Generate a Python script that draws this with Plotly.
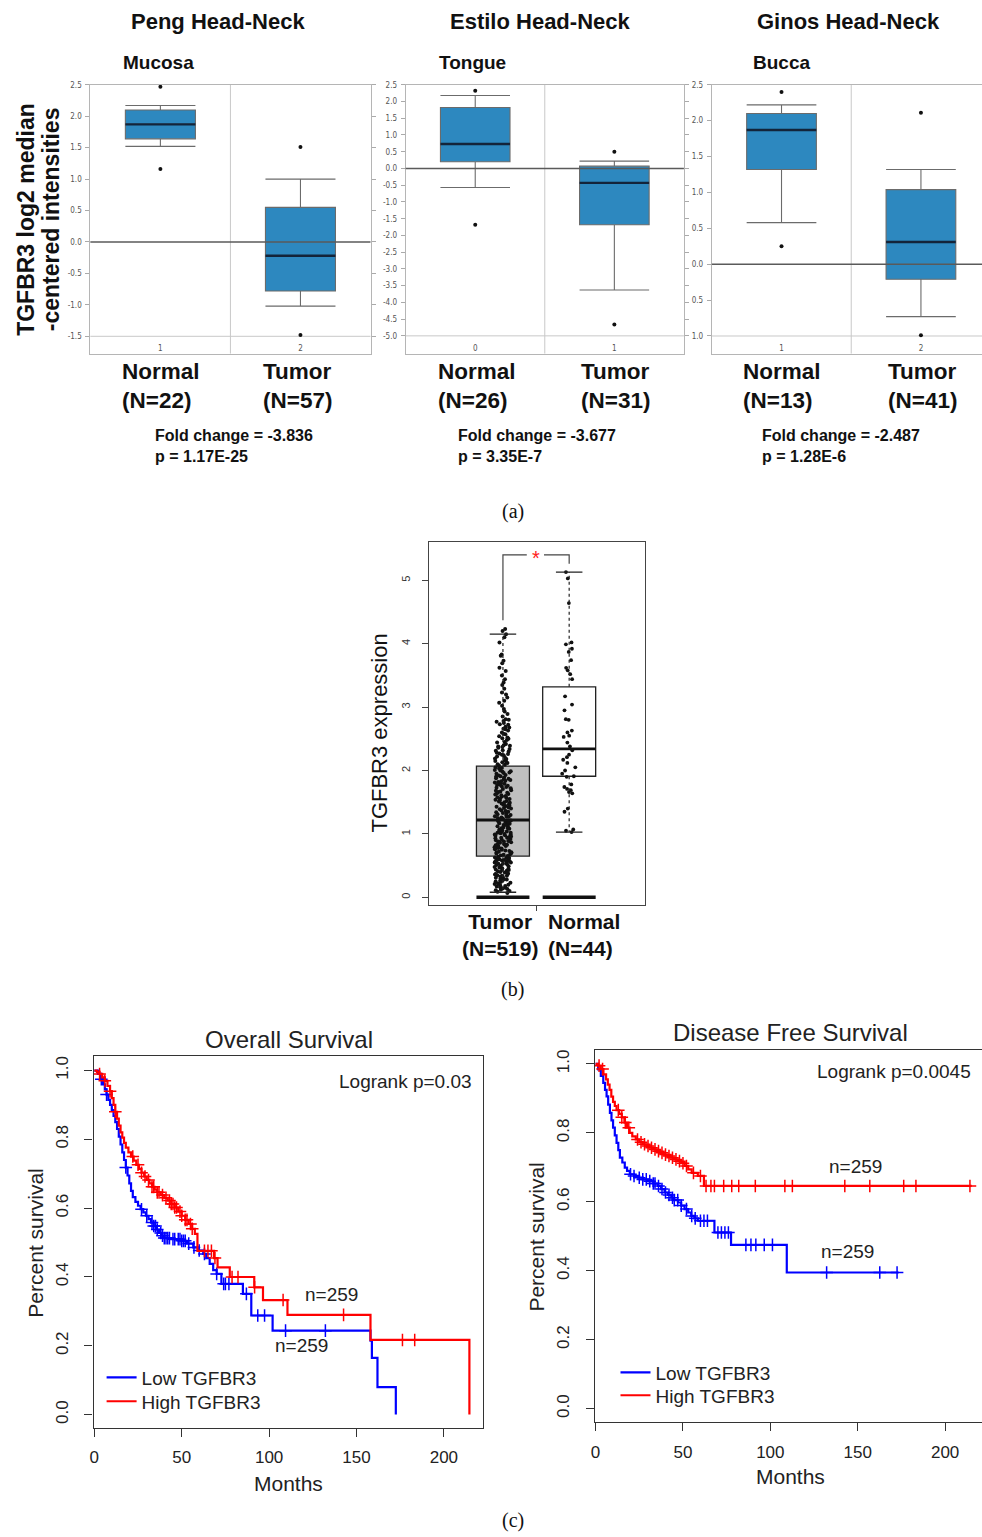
import plotly.graph_objects as go

W, H = 982, 1537


def fx(p):
    return p / W


def fy(p):
    return 1 - p / H


# ---------------- Panel (a): Oncomine box plots ----------------
a_titles = ["Peng Head-Neck", "Estilo Head-Neck", "Ginos Head-Neck"]
a_subtitles = ["Mucosa", "Tongue", "Bucca"]
a_groups = ["Normal", "Tumor"]
a_counts = [[22, 57], [26, 31], [13, 41]]
a_codes = [["1", "2"], ["0", "1"], ["1", "2"]]
a_fold = ["-3.836", "-3.677", "-2.487"]
a_pval = ["1.17E-25", "3.35E-7", "1.28E-6"]
a_q1 = [[1.64, -0.78], [0.20, -1.68], [1.32, -0.21]]
a_median = [[1.87, -0.22], [0.73, -0.43], [1.87, 0.31]]
a_q3 = [[2.10, 0.55], [1.82, 0.07], [2.10, 1.04]]
a_lowfence = [[1.52, -1.02], [-0.57, -3.63], [0.58, -0.73]]
a_highfence = [[2.17, 1.00], [2.18, 0.22], [2.22, 1.32]]
a_out_x = [[0, 0, 1, 1], [0, 0, 1, 1], [0, 0, 1, 1]]
a_out_y = [[2.47, 1.16, 1.51, -1.48], [2.32, -1.68, 0.50, -4.66], [2.40, 0.25, 2.11, -0.99]]
a_ytick_vals = [
    [-1.5, -1.0, -0.5, 0.0, 0.5, 1.0, 1.5, 2.0, 2.5],
    [-5.0, -4.5, -4.0, -3.5, -3.0, -2.5, -2.0, -1.5, -1.0, -0.5, 0.0, 0.5, 1.0, 1.5, 2.0, 2.5],
    [-1.0, -0.5, 0.0, 0.5, 1.0, 1.5, 2.0, 2.5],
]
a_ytick_text = [
    ["-1.5", "-1.0", "-0.5", "0.0", "0.5", "1.0", "1.5", "2.0", "2.5"],
    ["-5.0", "-4.5", "-4.0", "-3.5", "-3.0", "-2.5", "-2.0", "-1.5", "-1.0", "-0.5",
     "0.0", "0.5", "1.0", "1.5", "2.0", "2.5"],
    ["1.0", "0.5", "0.0", "0.5", "1.0", "1.5", "2.0", "2.5"],
]

# ---------------- Panel (b): GEPIA box plot ----------------
b_groups = ["Tumor", "Normal"]
b_counts = [519, 44]
b_q1 = [0.65, 1.91]
b_median = [1.22, 2.34]
b_q3 = [2.07, 3.32]
b_lowfence = [0.08, 1.03]
b_highfence = [4.15, 5.13]
b_ytick_vals = [0, 1, 2, 3, 4, 5]
tumor_expr = [
    0.07, 0.09, 0.11, 0.12, 0.14, 0.15, 0.17, 0.18, 0.20, 0.21, 0.23, 0.24, 0.26, 0.27,
    0.28, 0.30, 0.31, 0.33, 0.34, 0.35, 0.37, 0.38, 0.39, 0.41, 0.42, 0.43, 0.44, 0.46,
    0.47, 0.48, 0.49, 0.51, 0.52, 0.53, 0.54, 0.55, 0.57, 0.58, 0.59, 0.60, 0.61, 0.62,
    0.63, 0.64, 0.13, 0.19, 0.25, 0.32, 0.36, 0.40, 0.45, 0.50, 0.53, 0.56, 0.58, 0.62,
    0.66, 0.67, 0.69, 0.70, 0.71, 0.73, 0.74, 0.75, 0.77, 0.78, 0.79, 0.81, 0.82, 0.83,
    0.85, 0.86, 0.87, 0.89, 0.90, 0.91, 0.93, 0.94, 0.95, 0.97, 0.98, 0.99, 1.01, 1.02,
    1.03, 1.05, 1.06, 1.07, 1.09, 1.10, 1.11, 1.13, 1.14, 1.15, 1.17, 1.18, 1.19, 1.21,
    0.68, 0.76, 0.84, 0.92, 0.96, 1.00, 1.04, 1.08, 1.12, 1.16, 0.72, 0.80, 0.88, 1.20,
    1.23, 1.25, 1.27, 1.29, 1.31, 1.33, 1.35, 1.37, 1.39, 1.41, 1.43, 1.45, 1.47, 1.49,
    1.51, 1.53, 1.55, 1.57, 1.59, 1.61, 1.63, 1.65, 1.67, 1.69, 1.71, 1.73, 1.75, 1.77,
    1.79, 1.81, 1.83, 1.85, 1.87, 1.89, 1.91, 1.93, 1.95, 1.97, 1.99, 2.01, 2.03, 2.05,
    1.26, 1.34, 1.42, 1.50, 1.58, 1.66, 1.74, 1.82, 1.90, 1.98, 1.30, 1.46, 1.62, 1.78,
    2.08, 2.10, 2.12, 2.14, 2.16, 2.18, 2.20, 2.22, 2.24, 2.26, 2.28, 2.30, 2.32, 2.34,
    2.36, 2.38, 2.40, 2.42, 2.45, 2.48, 2.51, 2.54, 2.57, 2.60, 2.63, 2.66, 2.69, 2.72,
    2.75, 2.78, 2.81, 2.85, 2.89, 2.93, 2.97, 3.02, 3.07, 3.10, 3.15, 3.20, 3.23, 3.29,
    3.35, 3.39, 3.44, 3.50, 3.57, 3.62, 3.69, 3.73, 3.81, 3.83, 4.02, 4.10, 4.15, 4.20,
    4.23, 2.15, 2.27, 2.39, 2.52, 2.68, 2.77,
    0.10, 0.16, 0.22, 0.29, 0.37, 0.43, 0.48, 0.55, 0.60, 0.65, 0.71, 0.78, 0.83, 0.88,
    0.94, 0.99, 1.04, 1.09, 1.14, 1.19, 1.24, 1.28, 1.32, 1.36, 1.40, 1.44, 1.48, 1.52,
    1.56, 1.60, 1.64, 1.68, 1.72, 1.76, 1.80, 1.84, 1.88, 1.92, 1.96, 2.00, 2.04, 2.09,
    2.13, 2.19, 2.25, 2.31, 2.37, 2.44, 2.50, 2.58, 2.65, 2.73, 2.80, 0.34, 0.57, 0.79,
    1.02, 1.27, 1.54, 1.86,
]
normal_expr = [
    5.13, 5.03, 4.64, 4.02, 3.99, 3.92, 3.87, 3.74, 3.58, 3.52, 3.44, 3.17, 3.04, 2.95,
    2.81, 2.80, 2.63, 2.55, 2.53, 2.44, 2.32, 2.21, 2.17, 2.05, 2.00, 1.91, 1.90, 1.74,
    1.71, 1.66, 1.64, 1.40, 1.35, 1.07, 1.05, 1.03, 2.25, 2.12, 1.95, 1.78, 1.69, 2.38,
    2.60, 3.62,
]
b_bracket_y = [4.37, 5.40, 5.26]

# ---------------- Panel (c): Kaplan-Meier curves ----------------
km_xticks = [0, 50, 100, 150, 200]
km_yticks = [0.0, 0.2, 0.4, 0.6, 0.8, 1.0]

os_low_t = [2, 3.5, 5, 6, 7, 8, 9, 10, 11, 12, 13, 14, 15, 16, 17, 18, 19, 20, 21, 22,
            23.5, 25, 26.5, 28, 29.5, 31, 32.5, 34, 35.5, 37, 38.5, 40, 44, 50, 53, 56.6,
            59.5, 62.3, 64, 66, 68, 70, 72.7, 85, 89.8, 102, 158, 158.8, 162, 172.5]
os_low_s = [0.99, 0.975, 0.96, 0.945, 0.93, 0.915, 0.9, 0.885, 0.868, 0.85, 0.83, 0.808,
            0.785, 0.762, 0.74, 0.718, 0.695, 0.672, 0.65, 0.632, 0.618, 0.607, 0.597,
            0.588, 0.578, 0.568, 0.558, 0.548, 0.538, 0.528, 0.52, 0.513, 0.51, 0.505,
            0.497, 0.486, 0.477, 0.467, 0.455, 0.438, 0.42, 0.409, 0.38, 0.351, 0.288,
            0.244, 0.215, 0.165, 0.08, 0.0]
os_low_cens = [4, 7, 18, 27, 30, 33, 34, 35, 36, 38, 39, 40, 41, 42, 43, 45, 46, 48, 49,
               50, 51, 52, 54, 57, 60, 63, 70, 74, 75, 77, 87, 93.5, 97.4, 109.4, 132.2]
os_low_end = 172.5

os_high_t = [1.5, 3, 4.5, 6, 7.5, 9, 10, 11, 12, 13, 14, 15, 16, 17, 18, 19.5, 21, 22.5,
             24, 25.5, 27, 28.5, 30, 31.5, 33, 34.5, 36, 38, 40, 42, 44, 46, 48, 50, 52,
             54, 56, 57.5, 59, 68.5, 70.5, 77.5, 91.5, 96.5, 110.5, 158, 214.6]
os_high_s = [0.996, 0.99, 0.98, 0.97, 0.955, 0.94, 0.92, 0.9, 0.88, 0.86, 0.84, 0.82,
             0.805, 0.79, 0.776, 0.762, 0.75, 0.738, 0.726, 0.714, 0.703, 0.692, 0.682,
             0.672, 0.662, 0.654, 0.646, 0.638, 0.63, 0.622, 0.612, 0.602, 0.59, 0.578,
             0.566, 0.554, 0.54, 0.525, 0.476, 0.455, 0.428, 0.40, 0.37, 0.333, 0.29,
             0.217, 0.0]
os_high_cens = [3, 6, 9, 12, 22, 25, 27, 29, 31, 33, 34, 36, 37, 39, 41, 43, 44, 45, 46,
                47, 49, 50, 52, 53, 55, 56, 63, 65, 67, 69, 78.8, 82.2, 91.7, 108, 142.6,
                176.3, 183.3]
os_high_end = 214.6

dfs_low_t = [1.5, 3, 4.4, 5.4, 6.3, 7.2, 8.2, 9.1, 10, 11, 12, 13, 13.9, 15.3, 16.7, 18,
             19.6, 22, 24.3, 27, 30, 33, 35.7, 37.5, 39.5, 41.5, 43.3, 45, 47.1, 49, 50.9,
             53, 54.7, 56.5, 58.5, 68, 77.5, 109.4]
dfs_low_s = [0.984, 0.965, 0.945, 0.925, 0.906, 0.882, 0.858, 0.836, 0.815, 0.793, 0.771,
             0.75, 0.728, 0.714, 0.699, 0.69, 0.68, 0.675, 0.67, 0.665, 0.66, 0.653,
             0.646, 0.637, 0.627, 0.62, 0.612, 0.605, 0.598, 0.589, 0.579, 0.569, 0.559,
             0.552, 0.545, 0.511, 0.475, 0.395]
dfs_low_cens = [20, 22, 25, 27, 29, 31, 33, 34, 36, 38, 40, 42, 44, 45, 47, 49, 52, 55,
                57, 60, 62, 64, 70, 72, 74, 76, 86, 88.9, 91.7, 96.5, 101.2, 132.2, 162.6,
                172.5]
dfs_low_end = 173.4

dfs_high_t = [1.5, 3, 4.5, 6, 7, 8, 9, 10, 11, 12, 13.5, 15, 16.5, 18, 19.5, 21, 23, 25,
              27, 29, 31, 33, 35, 37, 39, 41, 43, 45, 47, 49, 51, 53, 55, 58.5, 62]
dfs_high_s = [0.995, 0.985, 0.97, 0.955, 0.94, 0.925, 0.905, 0.89, 0.878, 0.866, 0.855,
              0.845, 0.83, 0.815, 0.8, 0.79, 0.781, 0.773, 0.767, 0.762, 0.757, 0.752,
              0.747, 0.742, 0.737, 0.733, 0.728, 0.723, 0.718, 0.712, 0.704, 0.694,
              0.684, 0.675, 0.646]
dfs_high_cens = [2, 4, 13, 15, 17, 19, 24, 26, 28, 30, 32, 34, 36, 38, 40, 42, 44, 46, 48,
                 50, 52, 56, 60, 63.2, 66, 68, 73.3, 77.9, 81.9, 91.4, 108.3, 112.6,
                 142.6, 156.9, 176.3, 183.3, 214.2]
dfs_high_end = 215.2

km_series = ["Low TGFBR3", "High TGFBR3"]
km_colors = ["#0000ff", "#ff0000"]

# ---------------- Figure ----------------
SANS = "Liberation Sans, Arial, sans-serif"
NARROW = "Liberation Sans Narrow, Arial Narrow, DejaVu Sans Condensed, sans-serif"
SERIF = "Liberation Serif, Times New Roman, serif"
A_BLUE = "#2d88bf"

fig = go.Figure()
annotations = []
shapes = []


def ann(text, x, y, size, color="#111", xanchor="center", yanchor="middle",
        family=SANS, angle=0, align="center"):
    yy = y - 2 if angle == 0 else y
    annotations.append(dict(text=text, x=fx(x), y=fy(yy), xref="paper", yref="paper",
                            xanchor=xanchor, yanchor=yanchor, showarrow=False,
                            textangle=angle, align=align,
                            font=dict(size=size, color=color, family=family)))


# Panel (a)
a_xdom = [(86.7, 368), (403.3, 682.7), (710.7, 982)]
a_yrange = [[-1.775, 2.5], [-5.53, 2.5], [-1.245, 2.5]]
a_xrange = [[-0.5, 1.5], [-0.5, 1.5], [-0.5, 1.438]]
a_title_x = [214.5, 538, 848]
a_sub_x = [155, 470, 781]
a_group_x = [[158, 295], [474.5, 614], [781, 922]]
a_fold_x = [150, 454, 759]

for i in range(3):
    sx = "" if i == 0 else str(i + 1)
    xa, ya = "x" + sx, "y" + sx
    fig.add_trace(go.Box(
        x=[0, 1], q1=a_q1[i], median=a_median[i], q3=a_q3[i],
        lowerfence=a_lowfence[i], upperfence=a_highfence[i],
        width=0.5, whiskerwidth=1, fillcolor=A_BLUE, boxpoints=False,
        line=dict(color="#6b6b6b", width=1.1), xaxis=xa, yaxis=ya,
        showlegend=False, hoverinfo="skip"))
    for j in range(2):
        fig.add_trace(go.Scatter(
            x=[j - 0.25, j + 0.25], y=[a_median[i][j]] * 2, mode="lines",
            line=dict(color="#13243a", width=2.4), xaxis=xa, yaxis=ya,
            showlegend=False, hoverinfo="skip"))
    fig.add_trace(go.Scatter(
        x=a_out_x[i], y=a_out_y[i], mode="markers",
        marker=dict(color="#111", size=4), xaxis=xa, yaxis=ya,
        showlegend=False, hoverinfo="skip"))

    fig.layout["xaxis" + sx] = dict(
        domain=[fx(a_xdom[i][0]), fx(a_xdom[i][1])], range=a_xrange[i],
        tickvals=[0, 1], ticktext=a_codes[i], ticklabelposition="inside",
        ticks="", showline=True, mirror=True, linecolor="#b5b5b5", linewidth=1,
        showgrid=False, zeroline=False, anchor=ya,
        tickfont=dict(size=8, color="#555", family=NARROW))
    fig.layout["yaxis" + sx] = dict(
        domain=[fy(350.5), fy(81)], range=a_yrange[i],
        tickvals=a_ytick_vals[i], ticktext=a_ytick_text[i],
        ticks="outside", ticklen=4, tickcolor="#aaa", showline=True,
        mirror=("ticks" if i < 2 else False), linecolor="#b5b5b5", linewidth=1,
        showgrid=False, zeroline=False, anchor=xa, ticklabelstandoff=2,
        tickfont=dict(size=8, color="#555", family=NARROW))
    shapes.append(dict(type="line", xref=xa + " domain", yref=ya, x0=0, x1=1, y0=0, y1=0,
                       line=dict(color="#5a5a5a", width=1.5), layer="above"))
    shapes.append(dict(type="line", xref=xa + " domain", yref=ya, x0=0, x1=1,
                       y0=a_ytick_vals[i][0], y1=a_ytick_vals[i][0],
                       line=dict(color="#c8c8c8", width=1), layer="below"))
    shapes.append(dict(type="line", xref=xa, yref=ya + " domain", x0=0.5, x1=0.5, y0=0, y1=1,
                       line=dict(color="#c8c8c8", width=1), layer="below"))

    ann("<b>%s</b>" % a_titles[i], a_title_x[i], 20, 22)
    ann("<b>%s</b>" % a_subtitles[i], a_sub_x[i], 61, 19)
    for j in range(2):
        ann("<b>%s<br>(N=%d)</b>" % (a_groups[j], a_counts[i][j]), a_group_x[i][j], 385, 22.5,
            align="left")
    ann("<b>Fold change = %s<br>p = %s</b>" % (a_fold[i], a_pval[i]), a_fold_x[i], 445, 16,
        xanchor="left", align="left")

ann("<b>TGFBR3 log2 median</b>", 22, 215.5, 23, angle=-90)
ann("<b>-centered intensities</b>", 48, 216, 23, angle=-90)
ann("(a)", 511, 511, 20, family=SERIF)

# Panel (b)
fig.add_trace(go.Box(
    x=[0], q1=[b_q1[0]], median=[b_median[0]], q3=[b_q3[0]], lowerfence=[b_q1[0]],
    upperfence=[b_q3[0]], width=0.8, fillcolor="#bfbfbf", boxpoints=False,
    line=dict(color="#222", width=1.3), xaxis="x4", yaxis="y4", showlegend=False,
    hoverinfo="skip"))
fig.add_trace(go.Box(
    x=[1], q1=[b_q1[1]], median=[b_median[1]], q3=[b_q3[1]], lowerfence=[b_q1[1]],
    upperfence=[b_q3[1]], width=0.8, fillcolor="white", boxpoints=False,
    line=dict(color="#222", width=1.3), xaxis="x4", yaxis="y4", showlegend=False,
    hoverinfo="skip"))
for j in range(2):
    fig.add_trace(go.Scatter(
        x=[j, j, None, j, j], y=[b_q3[j], b_highfence[j], None, b_q1[j], b_lowfence[j]],
        mode="lines", line=dict(color="#222", width=1.2, dash="dot"),
        xaxis="x4", yaxis="y4", showlegend=False, hoverinfo="skip"))
    fig.add_trace(go.Scatter(
        x=[j - 0.2, j + 0.2, None, j - 0.2, j + 0.2],
        y=[b_highfence[j], b_highfence[j], None, b_lowfence[j], b_lowfence[j]],
        mode="lines", line=dict(color="#222", width=1.3),
        xaxis="x4", yaxis="y4", showlegend=False, hoverinfo="skip"))
    fig.add_trace(go.Scatter(
        x=[j - 0.4, j + 0.4], y=[0, 0], mode="lines", line=dict(color="#111", width=3.5),
        xaxis="x4", yaxis="y4", showlegend=False, hoverinfo="skip"))
fig.add_trace(go.Box(
    y=tumor_expr, x0=0, width=0.8, boxpoints="all", jitter=0.32, pointpos=0,
    fillcolor="rgba(0,0,0,0)", line=dict(width=0, color="rgba(0,0,0,0)"),
    marker=dict(color="#111", size=4), xaxis="x4", yaxis="y4", showlegend=False,
    hoverinfo="skip"))
fig.add_trace(go.Box(
    y=normal_expr, x0=1, width=0.8, boxpoints="all", jitter=0.3, pointpos=0,
    fillcolor="rgba(0,0,0,0)", line=dict(width=0, color="rgba(0,0,0,0)"),
    marker=dict(color="#111", size=3.8), xaxis="x4", yaxis="y4", showlegend=False,
    hoverinfo="skip"))
for j in range(2):
    fig.add_trace(go.Scatter(
        x=[j - 0.4, j + 0.4], y=[b_median[j]] * 2, mode="lines",
        line=dict(color="#111", width=2.8), xaxis="x4", yaxis="y4", showlegend=False,
        hoverinfo="skip"))
fig.add_trace(go.Scatter(
    x=[0, 0, 0.36, None, 0.62, 1, 1],
    y=[b_bracket_y[0], b_bracket_y[1], b_bracket_y[1], None, b_bracket_y[1], b_bracket_y[1],
       b_bracket_y[2]],
    mode="lines", line=dict(color="#444", width=1.2), xaxis="x4", yaxis="y4",
    showlegend=False, hoverinfo="skip"))
annotations.append(dict(text="*", x=0.5, y=b_bracket_y[1], xref="x4", yref="y4",
                        showarrow=False, yanchor="middle", yshift=-3,
                        font=dict(size=20, color="#ff2020", family=SANS)))

fig.layout["xaxis4"] = dict(
    domain=[fx(426.7), fx(643.3)], range=[-1.117, 2.14], tickvals=[0.5], ticktext=[""],
    ticks="outside", ticklen=5, tickcolor="#444", showline=True, mirror=True,
    linecolor="#444", linewidth=1.2, showgrid=False, zeroline=False, anchor="y4")
fig.layout["yaxis4"] = dict(
    domain=[fy(903.3), fy(539)], range=[-0.12, 5.61], tickvals=b_ytick_vals,
    tickangle=-90, ticks="outside", ticklen=6, tickcolor="#444", showline=True,
    mirror=True, linecolor="#444", linewidth=1.2, showgrid=False, zeroline=False,
    anchor="x4", ticklabelstandoff=7, tickfont=dict(size=11, color="#333", family=SANS))

ann("TGFBR3 expression", 377, 731, 22, angle=-90)
ann("<b>%s<br>(N=%d)</b>" % (b_groups[0], b_counts[0]), 498.5, 935, 21)
ann("<b>%s<br>(N=%d)</b>" % (b_groups[1], b_counts[1]), 582, 935, 21, align="left")
ann("(b)", 511, 990, 20, family=SERIF)


# Panel (c)
def surv_at(times, survs, t):
    s = 1.0
    for ti, si in zip(times, survs):
        if ti <= t:
            s = si
        else:
            break
    return s


km_sets = [
    ("x5", "y5", ["legend", "legend3"], [(os_low_t, os_low_s, os_low_cens, os_low_end),
                                         (os_high_t, os_high_s, os_high_cens, os_high_end)]),
    ("x6", "y6", ["legend2", "legend4"], [(dfs_low_t, dfs_low_s, dfs_low_cens, dfs_low_end),
                                          (dfs_high_t, dfs_high_s, dfs_high_cens,
                                           dfs_high_end)]),
]
for xa, ya, lgs, curves in km_sets:
    for k, (tt, ss, cens, end) in enumerate(curves):
        fig.add_trace(go.Scatter(
            x=[0] + tt + [end], y=[1.0] + ss + [ss[-1]], mode="lines", line_shape="hv",
            line=dict(color=km_colors[k], width=2.2), name=km_series[k], legend=lgs[k],
            xaxis=xa, yaxis=ya, hoverinfo="skip"))
        fig.add_trace(go.Scatter(
            x=cens, y=[surv_at(tt, ss, c) for c in cens], mode="markers",
            marker=dict(symbol="cross-thin", size=9, line=dict(width=1.5, color=km_colors[k])),
            xaxis=xa, yaxis=ya, showlegend=False, hoverinfo="skip"))

km_axis_common = dict(ticks="outside", ticklen=8, tickwidth=1.2, tickcolor="#333",
                      showline=True, linecolor="#333", linewidth=1.3, showgrid=False,
                      zeroline=False, tickfont=dict(size=17, color="#222", family=SANS))
fig.layout["xaxis5"] = dict(domain=[fx(90), fx(481)], range=[-0.4, 222.4], tickvals=km_xticks,
                            mirror=True, anchor="y5", ticklabelstandoff=6, **km_axis_common)
fig.layout["yaxis5"] = dict(domain=[fy(1427.3), fy(1054.3)], range=[-0.0377, 1.0435],
                            tickvals=km_yticks, ticktext=["%.1f" % v for v in km_yticks],
                            tickangle=-90, mirror=True, anchor="x5", ticklabelstandoff=10,
                            **km_axis_common)
fig.layout["xaxis6"] = dict(domain=[fx(593.3), 1.0], range=[-0.4, 221.1], tickvals=km_xticks,
                            mirror=True, anchor="y6", ticklabelstandoff=6, **km_axis_common)
fig.layout["yaxis6"] = dict(domain=[fy(1421.7), fy(1048.3)], range=[-0.0388, 1.0417],
                            tickvals=km_yticks, ticktext=["%.1f" % v for v in km_yticks],
                            tickangle=-90, mirror=False, anchor="x6", ticklabelstandoff=10,
                            **km_axis_common)

ann("Overall Survival", 286, 1040, 24, color="#222")
ann("Logrank p=0.03", 472, 1082, 19, color="#222", xanchor="right")
ann("n=259", 329, 1296, 19, color="#222")
ann("n=259", 299, 1347, 19, color="#222")
ann("Months", 286, 1485, 21, color="#222")
ann("Percent survival", 32, 1242, 21, color="#222", angle=-90)

ann("Disease Free Survival", 790, 1033, 24, color="#222")
ann("Logrank p=0.0045", 973, 1072, 19, color="#222", xanchor="right")
ann("n=259", 855, 1168, 19, color="#222")
ann("n=259", 847, 1253, 19, color="#222")
ann("Months", 790, 1478, 21, color="#222")
ann("Percent survival", 535, 1236, 21, color="#222", angle=-90)
ann("(c)", 511, 1522, 20, family=SERIF)

legend_common = dict(xanchor="left", yanchor="top", bgcolor="rgba(0,0,0,0)",
                     borderwidth=0, tracegroupgap=0, itemwidth=30,
                     font=dict(size=19, color="#222", family=SANS))
fig.update_layout(
    width=W, height=H, margin=dict(l=0, r=0, t=0, b=0),
    paper_bgcolor="white", plot_bgcolor="white", hovermode=False,
    annotations=annotations, shapes=shapes,
    legend=dict(x=fx(98), y=fy(1358), **legend_common),
    legend3=dict(x=fx(98), y=fy(1382), **legend_common),
    legend2=dict(x=fx(614), y=fy(1353), **legend_common),
    legend4=dict(x=fx(614), y=fy(1376), **legend_common),
    font=dict(family=SANS),
)

fig.write_html(
    "out.html",
    config={"displayModeBar": False},
    post_script="document.body.style.margin='0';document.body.style.overflow='hidden';",
)
